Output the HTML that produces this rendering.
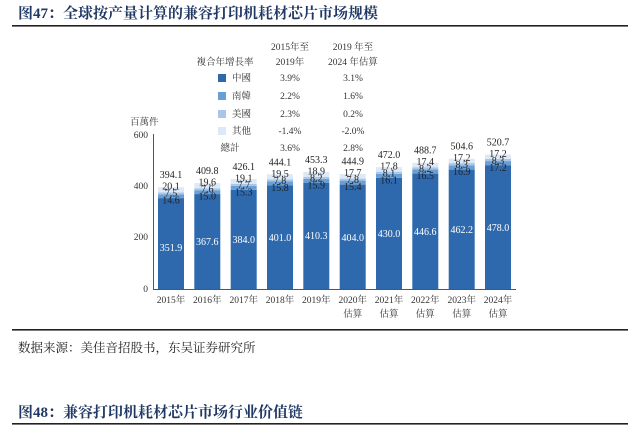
<!DOCTYPE html>
<html><head><meta charset="utf-8"><style>
html,body{margin:0;padding:0;background:#fff;width:640px;height:432px;overflow:hidden}
svg{display:block}
.s{font-family:"Liberation Serif","Noto Serif CJK SC",serif;font-size:9.5px;fill:#333}
.h{font-family:"Liberation Serif","Noto Serif CJK SC",serif;font-size:15px;font-weight:bold;fill:#1f3864}
.w{fill:#fff;font-family:"Liberation Serif",serif;font-size:10px}
.v{font-family:"Liberation Serif",serif;font-size:10px;fill:#222}
</style></head><body>
<svg width="640" height="432" viewBox="0 0 640 432">
<text x="18" y="18" class="h">图47：全球按产量计算的兼容打印机耗材芯片市场规模</text>
<rect x="12" y="25" width="616" height="1.6" fill="#222"/>
<rect x="12" y="329" width="616" height="1.6" fill="#222"/>
<text x="18" y="352" class="s" style="font-size:12.5px;fill:#222">数据来源：美佳音招股书，东吴证券研究所</text>
<text x="18" y="417" class="h">图48：兼容打印机耗材芯片市场行业价值链</text>
<rect x="12" y="423" width="616" height="1.6" fill="#222"/>

<!-- legend -->
<g class="s" text-anchor="middle">
<text x="290" y="50">2015年至</text><text x="290" y="65">2019年</text>
<text x="353" y="50">2019 年至</text><text x="353" y="65">2024 年估算</text>
<text x="225" y="65">複合年增長率</text>
<text x="290" y="81">3.9%</text><text x="353" y="81">3.1%</text>
<text x="290" y="99">2.2%</text><text x="353" y="99">1.6%</text>
<text x="290" y="117">2.3%</text><text x="353" y="117">0.2%</text>
<text x="290" y="134">-1.4%</text><text x="353" y="134">-2.0%</text>
<text x="290" y="151">3.6%</text><text x="353" y="151">2.8%</text>
<text x="230" y="151">總計</text>
</g>
<rect x="218" y="74" width="8" height="8" fill="#2e69ae"/>
<rect x="218" y="92" width="8" height="8" fill="#6a9fd4"/>
<rect x="218" y="110" width="8" height="8" fill="#a8c6e8"/>
<rect x="218" y="127" width="8" height="8" fill="#dde9f6"/>
<g class="s"><text x="232" y="81">中國</text><text x="232" y="99">南韓</text><text x="232" y="117">美國</text><text x="232" y="134">其他</text></g>

<!-- axes -->
<text x="130" y="125" class="s">百萬件</text>
<g class="s" text-anchor="end"><text x="148" y="138">600</text><text x="148" y="189">400</text><text x="148" y="240">200</text><text x="148" y="292">0</text></g>
<line x1="153.5" y1="134" x2="153.5" y2="290" stroke="#555" stroke-width="1"/>
<line x1="153" y1="289.5" x2="516" y2="289.5" stroke="#555" stroke-width="1"/>

<!-- bars: china, korea, us, other -->
<g>
<rect x="158" y="198.1" width="26" height="90.9" fill="#2e69ae"/><rect x="158" y="194.3" width="26" height="3.8" fill="#6a9fd4"/><rect x="158" y="192.4" width="26" height="1.9" fill="#a8c6e8"/><rect x="158" y="187.2" width="26" height="5.2" fill="#dde9f6"/>
<rect x="194.3" y="194.05" width="26" height="94.95" fill="#2e69ae"/><rect x="194.3" y="190.2" width="26" height="3.9" fill="#6a9fd4"/><rect x="194.3" y="188.2" width="26" height="2" fill="#a8c6e8"/><rect x="194.3" y="183.1" width="26" height="5.1" fill="#dde9f6"/>
<rect x="230.7" y="189.8" width="26" height="99.2" fill="#2e69ae"/><rect x="230.7" y="185.9" width="26" height="3.9" fill="#6a9fd4"/><rect x="230.7" y="183.9" width="26" height="2" fill="#a8c6e8"/><rect x="230.7" y="179" width="26" height="4.9" fill="#dde9f6"/>
<rect x="267" y="185.4" width="26" height="103.6" fill="#2e69ae"/><rect x="267" y="181.3" width="26" height="4.1" fill="#6a9fd4"/><rect x="267" y="179.3" width="26" height="2" fill="#a8c6e8"/><rect x="267" y="174.3" width="26" height="5" fill="#dde9f6"/>
<rect x="303.3" y="183" width="26" height="106" fill="#2e69ae"/><rect x="303.3" y="178.9" width="26" height="4.1" fill="#6a9fd4"/><rect x="303.3" y="176.8" width="26" height="2.1" fill="#a8c6e8"/><rect x="303.3" y="171.9" width="26" height="4.9" fill="#dde9f6"/>
<rect x="339.7" y="184.6" width="26" height="104.4" fill="#2e69ae"/><rect x="339.7" y="180.6" width="26" height="4" fill="#6a9fd4"/><rect x="339.7" y="178.6" width="26" height="2" fill="#a8c6e8"/><rect x="339.7" y="174" width="26" height="4.6" fill="#dde9f6"/>
<rect x="376" y="177.9" width="26" height="111.1" fill="#2e69ae"/><rect x="376" y="173.8" width="26" height="4.1" fill="#6a9fd4"/><rect x="376" y="171.7" width="26" height="2.1" fill="#a8c6e8"/><rect x="376" y="167.1" width="26" height="4.6" fill="#dde9f6"/>
<rect x="412.3" y="173.6" width="26" height="115.4" fill="#2e69ae"/><rect x="412.3" y="169.4" width="26" height="4.2" fill="#6a9fd4"/><rect x="412.3" y="167.2" width="26" height="2.2" fill="#a8c6e8"/><rect x="412.3" y="162.8" width="26" height="4.4" fill="#dde9f6"/>
<rect x="448.7" y="169.6" width="26" height="119.4" fill="#2e69ae"/><rect x="448.7" y="165.3" width="26" height="4.3" fill="#6a9fd4"/><rect x="448.7" y="163.1" width="26" height="2.2" fill="#a8c6e8"/><rect x="448.7" y="158.7" width="26" height="4.4" fill="#dde9f6"/>
<rect x="485" y="165.5" width="26" height="123.5" fill="#2e69ae"/><rect x="485" y="161.1" width="26" height="4.4" fill="#6a9fd4"/><rect x="485" y="158.9" width="26" height="2.2" fill="#a8c6e8"/><rect x="485" y="154.5" width="26" height="4.4" fill="#dde9f6"/>
</g>

<!-- china labels -->
<g class="w" text-anchor="middle">
<text x="171" y="251">351.9</text><text x="207.3" y="245">367.6</text><text x="243.7" y="243">384.0</text><text x="280" y="241">401.0</text><text x="316.3" y="239">410.3</text><text x="352.7" y="241">404.0</text><text x="389" y="237">430.0</text><text x="425.3" y="235">446.6</text><text x="461.7" y="233">462.2</text><text x="498" y="231">478.0</text>
</g>
<!-- stacked labels -->
<g class="v" text-anchor="middle">
<text x="171" y="203.6">14.6</text><text x="171" y="196.6">7.5</text><text x="171" y="189.6">20.1</text><text x="171" y="178">394.1</text>
<text x="207.3" y="199.5">15.0</text><text x="207.3" y="192.5">7.6</text><text x="207.3" y="185.5">19.6</text><text x="207.3" y="174">409.8</text>
<text x="243.7" y="195.3">15.3</text><text x="243.7" y="188.3">7.7</text><text x="243.7" y="181.3">19.1</text><text x="243.7" y="170">426.1</text>
<text x="280" y="190.9">15.8</text><text x="280" y="183.9">7.8</text><text x="280" y="176.9">19.5</text><text x="280" y="165.4">444.1</text>
<text x="316.3" y="188.5">15.9</text><text x="316.3" y="181.5">8.2</text><text x="316.3" y="174.5">18.9</text><text x="316.3" y="163">453.3</text>
<text x="352.7" y="190.1">15.4</text><text x="352.7" y="183.1">7.8</text><text x="352.7" y="176.1">17.7</text><text x="352.7" y="164.6">444.9</text>
<text x="389" y="183.4">16.1</text><text x="389" y="176.4">8.1</text><text x="389" y="169.4">17.8</text><text x="389" y="157.9">472.0</text>
<text x="425.3" y="179.1">16.5</text><text x="425.3" y="172.1">8.2</text><text x="425.3" y="165.1">17.4</text><text x="425.3" y="153.6">488.7</text>
<text x="461.7" y="175.1">16.9</text><text x="461.7" y="168.1">8.3</text><text x="461.7" y="161.1">17.2</text><text x="461.7" y="149.6">504.6</text>
<text x="498" y="171">17.2</text><text x="498" y="164">8.3</text><text x="498" y="157">17.2</text><text x="498" y="145.5">520.7</text>
</g>

<!-- x labels -->
<g class="s" text-anchor="middle">
<text x="171" y="303">2015年</text><text x="207.3" y="303">2016年</text><text x="243.7" y="303">2017年</text><text x="280" y="303">2018年</text><text x="316.3" y="303">2019年</text>
<text x="352.7" y="303">2020年</text><text x="389" y="303">2021年</text><text x="425.3" y="303">2022年</text><text x="461.7" y="303">2023年</text><text x="498" y="303">2024年</text>
<text x="352.7" y="317">估算</text><text x="389" y="317">估算</text><text x="425.3" y="317">估算</text><text x="461.7" y="317">估算</text><text x="498" y="317">估算</text>
</g>
</svg>
</body></html>
